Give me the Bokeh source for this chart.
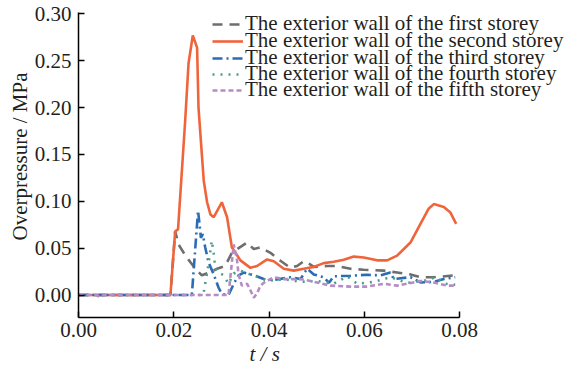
from bokeh.plotting import figure
from bokeh.models import (FixedTicker, NumeralTickFormatter, Legend, LegendItem,
                          Title, Range1d)
from bokeh.embed import file_html
from bokeh.resources import INLINE

# ---- data (time in s, overpressure in MPa) ----
t_first = [0, 0.0193, 0.0203, 0.0210, 0.0221, 0.0235, 0.0249, 0.0259, 0.0275, 0.0291,
           0.0308, 0.0322, 0.0333, 0.0354, 0.0368, 0.0382, 0.0403, 0.0424, 0.0445,
           0.0459, 0.0473, 0.0480, 0.0494, 0.0522, 0.0543, 0.0571, 0.0599, 0.0641,
           0.0669, 0.0697, 0.0718, 0.0746, 0.0791]
p_first = [0, 0, 0.068, 0.054, 0.045, 0.035, 0.026, 0.021, 0.024, 0.028,
           0.031, 0.045, 0.049, 0.056, 0.049, 0.051, 0.045, 0.0366, 0.029,
           0.031, 0.036, 0.035, 0.030, 0.031, 0.031, 0.028, 0.027, 0.026,
           0.024, 0.022, 0.019, 0.019, 0.021]

t_second = [0, 0.0193, 0.0203, 0.0209, 0.0224, 0.0231, 0.0240, 0.0249, 0.0252, 0.0259,
            0.0263, 0.0270, 0.0277, 0.0284, 0.0301, 0.0312, 0.0322, 0.0340, 0.0361,
            0.0375, 0.0396, 0.0410, 0.0431, 0.0452, 0.0473, 0.0494, 0.0515, 0.0536,
            0.0557, 0.0578, 0.0599, 0.0627, 0.0648, 0.0669, 0.0697, 0.0718, 0.0735,
            0.0746, 0.0767, 0.0781, 0.0793]
p_second = [0, 0, 0.068, 0.070, 0.186, 0.247, 0.277, 0.264, 0.200, 0.150,
            0.122, 0.099, 0.086, 0.083, 0.099, 0.083, 0.051, 0.037, 0.029,
            0.031, 0.038, 0.036, 0.028, 0.026, 0.028, 0.030, 0.034, 0.0355,
            0.0376, 0.041, 0.040, 0.037, 0.037, 0.042, 0.056, 0.076, 0.092,
            0.097, 0.094, 0.088, 0.076]

t_third = [0, 0.0238, 0.0251, 0.0254, 0.0257, 0.0261, 0.0266, 0.0273, 0.0284, 0.0294,
           0.0301, 0.0315, 0.0326, 0.0336, 0.0347, 0.0368, 0.0389, 0.0410, 0.0445,
           0.0466, 0.0480, 0.0494, 0.0515, 0.0526, 0.0536, 0.0571, 0.0606, 0.0634,
           0.0655, 0.0662, 0.0697, 0.0718, 0.0746, 0.0767, 0.0791]
p_third = [0, 0, 0.090, 0.076, 0.061, 0.065, 0.051, 0.035, 0.022, 0.008,
           0.001, 0.0, 0.012, 0.021, 0.024, 0.021, 0.017, 0.016, 0.019,
           0.017, 0.028, 0.022, 0.019, 0.013, 0.020, 0.0205, 0.0216, 0.021,
           0.024, 0.017, 0.019, 0.0134, 0.014, 0.017, 0.019]

t_fourth = [0, 0.0262, 0.0272, 0.0280, 0.0284, 0.0287, 0.0294, 0.0305, 0.0315, 0.0326,
            0.0340, 0.0361, 0.0382, 0.0396, 0.0431, 0.0466, 0.0501, 0.0536, 0.0564,
            0.0585, 0.0620, 0.0655, 0.0690, 0.0725, 0.0750, 0.0771, 0.0791]
p_fourth = [0, 0, 0.030, 0.058, 0.044, 0.029, 0.024, 0.021, 0.012, 0.023,
            0.026, 0.022, 0.019, 0.015, 0.017, 0.014, 0.015, 0.012, 0.020,
            0.012, 0.014, 0.019, 0.013, 0.015, 0.019, 0.012, 0.011]

t_fifth = [0, 0.0036, 0.0045, 0.0054, 0.0315, 0.0326, 0.0333, 0.0336, 0.0343, 0.0354,
           0.0361, 0.0368, 0.0375, 0.0382, 0.0389, 0.0410, 0.0431, 0.0466, 0.0487,
           0.0529, 0.0571, 0.0606, 0.0641, 0.0669, 0.0718, 0.0746, 0.0774, 0.0791]
p_fifth = [0, 0, -0.002, 0, 0, 0.054, 0.037, 0.022, 0.010, 0.012,
           0.005, -0.003, 0.002, 0.010, 0.013, 0.019, 0.017, 0.017, 0.015,
           0.010, 0.009, 0.009, 0.012, 0.010, 0.015, 0.0134, 0.010, 0.010]

series_names = ["The exterior wall of the first storey",
                "The exterior wall of the second storey",
                "The exterior wall of the third storey",
                "The exterior wall of the fourth storey",
                "The exterior wall of the fifth storey"]
x_ticks = [0, 0.02, 0.04, 0.06, 0.08]
y_ticks = [0, 0.05, 0.10, 0.15, 0.20, 0.25, 0.30]
x_label = "t / s"
y_label = "Overpressure / MPa"

FONT = "Liberation Serif"
TXT = "#231f20"

# frame spans to the right edge so the legend is not clipped; the x axis itself
# is bounded to 0 .. 0.08
X_END = 0.08 * (569 - 78) / 381.0

p = figure(width=569, height=370, output_backend="svg", toolbar_location=None,
           x_range=Range1d(0, X_END), y_range=Range1d(-0.024, 0.3015),
           min_border_left=78, min_border_right=0, min_border_top=12,
           min_border_bottom=53)
p.outline_line_color = None
p.grid.visible = False
p.background_fill_color = "white"
p.border_fill_color = "white"

styles = [
    dict(color="#6e6e6e", line_dash="10 7", line_width=2.6),
    dict(color="#f0643c", line_dash="solid", line_width=2.6),
    dict(color="#2a6db5", line_dash="10 4 2 4", line_width=2.6),
    dict(color="#4e9c8c", line_dash="2 6", line_width=2.6),
    dict(color="#b68cc6", line_dash="5 3", line_width=2.6),
]
data = [(t_first, p_first), (t_second, p_second), (t_third, p_third),
        (t_fourth, p_fourth), (t_fifth, p_fifth)]

# legend rows (bottom edge of each single-row legend, measured from frame bottom)
row_bottoms = [281, 264, 247, 231, 215]

for (tx, py), st, name, vb in zip(data, styles, series_names, row_bottoms):
    r = p.line(tx, py, line_color=st["color"], line_dash=st["line_dash"],
               line_width=st["line_width"])
    lg = Legend(items=[LegendItem(label=name, renderers=[r])], location=(134, vb),
                padding=0, margin=0, spacing=0, glyph_width=31, glyph_height=16,
                label_height=16, label_standoff=2, background_fill_alpha=0,
                border_line_color=None, label_text_font=FONT,
                label_text_font_size="21px", label_text_color=TXT)
    p.add_layout(lg, "center")

for ax in (p.xaxis, p.yaxis):
    ax.axis_line_color = "black"
    ax.axis_line_width = 1.5
    ax.major_tick_line_color = "black"
    ax.major_tick_line_width = 1.5
    ax.major_tick_in = 6
    ax.major_tick_out = 0
    ax.minor_tick_line_color = None
    ax.major_label_text_font = FONT
    ax.major_label_text_font_size = "21px"
    ax.major_label_text_color = TXT
    ax.formatter = NumeralTickFormatter(format="0.00")

p.xaxis.ticker = FixedTicker(ticks=x_ticks)
p.yaxis.ticker = FixedTicker(ticks=y_ticks)
p.xaxis.bounds = (0, 0.08)
p.xaxis.major_label_standoff = 5
p.yaxis.major_label_standoff = 7

p.add_layout(Title(text=y_label, align="left", offset=77, standoff=0,
                   text_font=FONT, text_font_size="21px", text_font_style="normal",
                   text_color=TXT), "left")
p.add_layout(Title(text=x_label, align="left", offset=171, standoff=0,
                   text_font=FONT, text_font_size="21px", text_font_style="italic",
                   text_color=TXT), "below")

open("out.html", "w").write(file_html(p, INLINE))
